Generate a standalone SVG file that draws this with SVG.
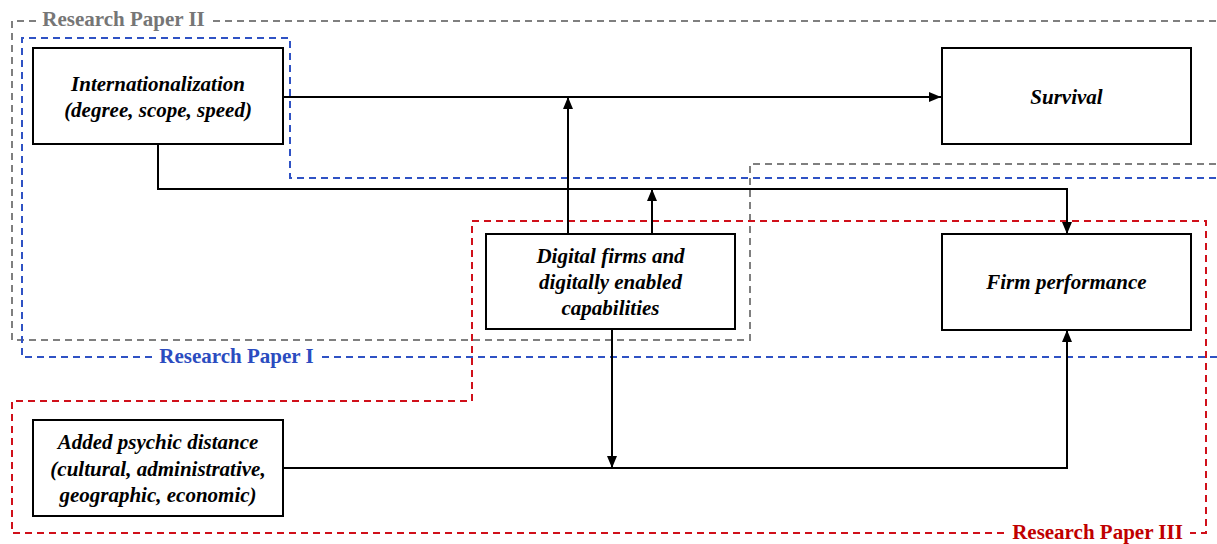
<svg xmlns="http://www.w3.org/2000/svg" width="1217" height="544" viewBox="0 0 1217 544">
  <style>
    .box { fill: #ffffff; stroke: #000000; stroke-width: 2; }
    .node-text { font-family: "Liberation Serif", "Times New Roman", serif; font-size: 21px; font-weight: bold; font-style: italic; fill: #000000; text-anchor: middle; }
    .conn { fill: none; stroke: #000000; stroke-width: 2; }
    .frame { fill: none; stroke-width: 2; stroke-dasharray: 7 5; }
    .frame-2 { stroke: #7f7f7f; }
    .frame-1 { stroke: #2f52c4; }
    .frame-3 { stroke: #d0101a; }
    .frame-label { font-family: "Liberation Serif", "Times New Roman", serif; font-size: 21px; font-weight: bold; text-anchor: middle; }
  </style>
  <defs>
    <marker id="arrow" viewBox="0 0 12 10" refX="12" refY="5" markerWidth="12" markerHeight="10" markerUnits="userSpaceOnUse" orient="auto">
      <path d="M0,0 L12,5 L0,10 Z" fill="#000000"/>
    </marker>
  </defs>

  <rect width="1217" height="544" fill="#ffffff"/>

  <!-- Research paper boundaries -->
  <g id="frames">
    <!-- Paper II (grey) -->
    <path class="frame frame-2" d="M36,21 L12,21 L12,340 L750,340 L750,164 L1217,164"/>
    <path class="frame frame-2" d="M213,21 L1217,21"/>
    <text class="frame-label" x="123.5" y="26" fill="#767676">Research Paper II</text>

    <!-- Paper I (blue) -->
    <path class="frame frame-1" d="M152,357 L22,357 L22,38 L290,38 L290,178 L1217,178"/>
    <path class="frame frame-1" d="M322,357 L1217,357"/>
    <text class="frame-label" x="236.5" y="363" fill="#2b4cc0">Research Paper I</text>

    <!-- Paper III (red) -->
    <path class="frame frame-3" d="M1004,533 L12,533 L12,401 L472,401 L472,221 L1206,221 L1206,533 L1190,533"/>
    <text class="frame-label" x="1097.5" y="539" fill="#c00000">Research Paper III</text>
  </g>

  <!-- Connectors -->
  <g id="connectors">
    <path class="conn" d="M283,97 L941,97" marker-end="url(#arrow)"/>
    <path class="conn" d="M568,234 L568,97" marker-end="url(#arrow)"/>
    <path class="conn" d="M158,144 L158,189 L1067,189 L1067,234" marker-end="url(#arrow)"/>
    <path class="conn" d="M652,234 L652,189" marker-end="url(#arrow)"/>
    <path class="conn" d="M612,329 L612,468" marker-end="url(#arrow)"/>
    <path class="conn" d="M283,468 L1067,468 L1067,330" marker-end="url(#arrow)"/>
  </g>

  <!-- Nodes -->
  <g id="internationalization">
    <rect class="box" x="33" y="48" width="250" height="96"/>
    <text class="node-text" x="158" y="91">Internationalization</text>
    <text class="node-text" x="158" y="117">(degree, scope, speed)</text>
  </g>

  <g id="survival">
    <rect class="box" x="942" y="48" width="249" height="96"/>
    <text class="node-text" x="1066.5" y="104">Survival</text>
  </g>

  <g id="digital-capabilities">
    <rect class="box" x="486" y="234" width="249" height="95"/>
    <text class="node-text" x="610.5" y="263">Digital firms and</text>
    <text class="node-text" x="610.5" y="289">digitally enabled</text>
    <text class="node-text" x="610.5" y="315">capabilities</text>
  </g>

  <g id="firm-performance">
    <rect class="box" x="942" y="234" width="249" height="96"/>
    <text class="node-text" x="1066.5" y="289">Firm performance</text>
  </g>

  <g id="psychic-distance">
    <rect class="box" x="33" y="420" width="250" height="96"/>
    <text class="node-text" x="158" y="449">Added psychic distance</text>
    <text class="node-text" x="158" y="476">(cultural, administrative,</text>
    <text class="node-text" x="158" y="502">geographic, economic)</text>
  </g>
</svg>
